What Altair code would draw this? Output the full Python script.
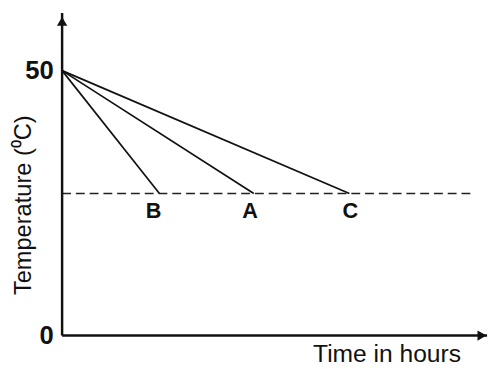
import altair as alt
import pandas as pd

# ---- data ----
series = ["B", "A", "C"]
start_time = 0.0
start_temp = 50.0
end_time = [22.9, 45.1, 67.6]      # where each cooling line meets the dashed level
final_temp = 26.8                  # dashed level
dash_end = 96.5
label_time = [21.5, 44.2, 67.8]
label_temp = 23.4
y_max = 60.9
x_max = 100.0

lines = pd.DataFrame(
    [{"series": s, "t": start_time, "temp": start_temp} for s in series]
    + [{"series": s, "t": e, "temp": final_temp} for s, e in zip(series, end_time)]
)
labels = pd.DataFrame({"series": series, "t": label_time, "temp": [label_temp] * 3})
dashed = pd.DataFrame({"t": [0.0, dash_end], "temp": [final_temp, final_temp]})
yaxis = pd.DataFrame({"t": [0.0], "temp": [0.0], "temp2": [y_max]})
xaxis = pd.DataFrame({"t": [0.0], "t2": [x_max], "temp": [0.0]})
arrows = pd.DataFrame({"t": [0.0, x_max - 1.2], "temp": [y_max - 1.6, 0.0],
                       "shape": ["triangle-up", "triangle-right"]})

FONT = "Liberation Sans"
xs = alt.Scale(domain=[0, x_max], nice=False, zero=False)
ys = alt.Scale(domain=[0, y_max], nice=False, zero=False)

x_enc = alt.X("t:Q", scale=xs, axis=alt.Axis(
    labels=False, ticks=False, domain=False, grid=False,
    title="Time in hours", titleFont=FONT, titleFontSize=25, titleFontWeight="normal",
    titleColor="#111", titleAnchor="end", titleAlign="right", titleX=405,
    titleY=18, titleBaseline="middle"))
y_enc = alt.Y("temp:Q", scale=ys, axis=alt.Axis(
    values=[0, 50], ticks=False, domain=False, grid=False,
    labelFont=FONT, labelFontSize=26, labelFontWeight="bold", labelColor="#111",
    labelPadding=9,
    title="Temperature (⁰C)", titleFont=FONT, titleFontSize=24, titleFontWeight="normal",
    titleColor="#111", titleX=-39, titleY=195, titleAngle=270, titleAlign="center",
    titleBaseline="middle"))

base_lines = alt.Chart(lines).mark_line(color="#111", strokeWidth=1.7).encode(
    x=x_enc, y=y_enc, detail="series:N")

dash = alt.Chart(dashed).mark_line(color="#222", strokeWidth=1.5, strokeDash=[9, 5]).encode(
    x="t:Q", y="temp:Q")

txt = alt.Chart(labels).mark_text(font=FONT, fontSize=22, fontWeight="bold", color="#111",
                                  align="center", baseline="middle").encode(
    x="t:Q", y="temp:Q", text="series:N")

yrule = alt.Chart(yaxis).mark_rule(color="#111", strokeWidth=2.5).encode(
    x="t:Q", y="temp:Q", y2="temp2:Q")
xrule = alt.Chart(xaxis).mark_rule(color="#111", strokeWidth=2.5).encode(
    x="t:Q", x2="t2:Q", y="temp:Q")

arr = alt.Chart(arrows).mark_point(filled=True, color="#111", opacity=1, size=110).encode(
    x="t:Q", y="temp:Q",
    shape=alt.Shape("shape:N", scale=None, legend=None))

chart = alt.layer(base_lines, dash, txt, yrule, xrule, arr).properties(
    width=432, height=328,
    autosize=alt.AutoSizeParams(type="none"),
    padding={"left": 55, "top": 2, "right": 5, "bottom": 28},
    background="white",
).configure_view(stroke=None)

chart.save("out.html", embed_options={"renderer": "svg", "actions": False})
